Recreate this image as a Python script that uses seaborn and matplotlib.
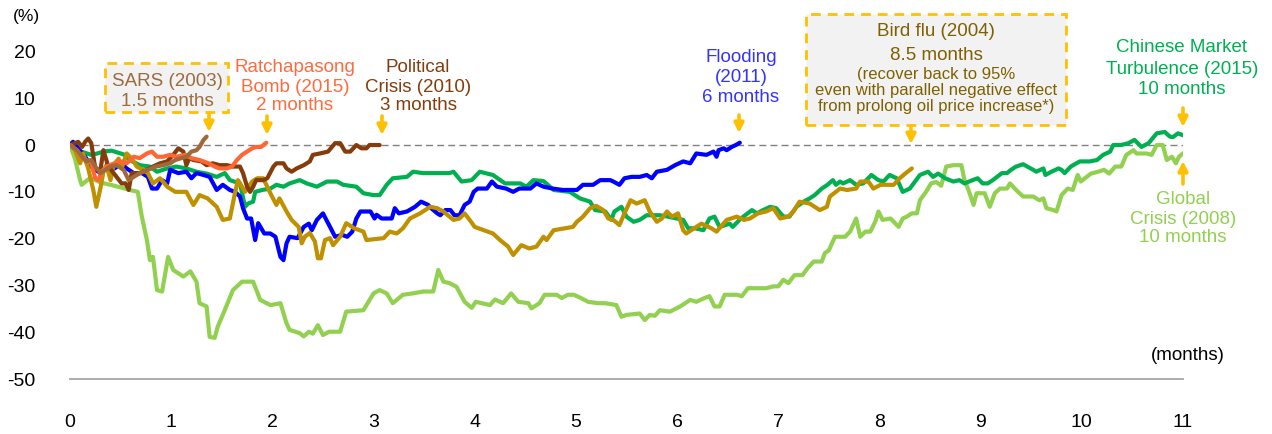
import matplotlib
matplotlib.use("Agg")
import matplotlib.pyplot as plt
from matplotlib.patches import Rectangle
import seaborn as sns

# ---------------- data (months, % change) ----------------
gc_x = [0, 0.05, 0.1, 0.115, 0.2, 0.3, 0.4, 0.49, 0.59, 0.67, 0.71, 0.76, 0.79, 0.82, 0.86, 0.91, 0.97, 1.02, 1.12, 1.19,
        1.25, 1.28, 1.35, 1.38, 1.43, 1.46, 1.51, 1.61, 1.70, 1.81, 1.88, 1.98, 2.08, 2.14, 2.17, 2.27, 2.31, 2.36, 2.40, 2.45,
        2.50, 2.56, 2.67, 2.73, 2.90, 3.00, 3.06, 3.13, 3.19, 3.29, 3.39, 3.49, 3.59, 3.64, 3.69, 3.75, 3.82, 3.90, 3.97, 4.01,
        4.15, 4.20, 4.28, 4.36, 4.43, 4.53, 4.56, 4.64, 4.69, 4.81, 4.86, 4.92, 4.98, 5.05, 5.12, 5.22, 5.29, 5.40, 5.45, 5.50,
        5.63, 5.68, 5.73, 5.78, 5.83, 5.93, 6.03, 6.13, 6.19, 6.26, 6.32, 6.37, 6.42, 6.47, 6.59, 6.64, 6.70, 6.88, 6.95, 7.00,
        7.05, 7.10, 7.16, 7.24, 7.29, 7.35, 7.43, 7.46, 7.50, 7.56, 7.66, 7.71, 7.77, 7.81, 7.86, 7.91, 7.96, 7.99, 8.03, 8.11,
        8.19, 8.23, 8.27, 8.32, 8.37, 8.40, 8.46, 8.51, 8.56, 8.61, 8.66, 8.73, 8.81, 8.84, 8.88, 8.93, 8.96, 9.04, 9.09, 9.14,
        9.19, 9.26, 9.29, 9.35, 9.42, 9.52, 9.58, 9.62, 9.65, 9.72, 9.75, 9.80, 9.86, 9.91, 9.96, 9.99, 10.03, 10.09, 10.16, 10.22,
        10.27, 10.33, 10.39, 10.44, 10.51, 10.54, 10.64, 10.69, 10.74, 10.80, 10.84, 10.89, 10.93, 10.96, 11.0]
gc_y = [0, -3, -7.5, -8.5, -7, -8, -8.5, -9, -9.6, -10, -15.3, -20.3, -24.6, -23.9, -31, -31.3, -23.9, -26.7, -28.1, -27,
        -29.2, -33.8, -34.5, -41, -41.2, -38.8, -36.3, -31, -29.2, -29.2, -33.1, -34.2, -33.8, -38.1, -39.5, -40.2, -40.9, -39.9, -40.3, -38.5,
        -40.6, -39.9, -39.9, -35.6, -35.3, -31.7, -31, -31.7, -33.8, -32, -31.7, -31.3, -31.3, -26.7, -29.2, -29.5, -30.3, -33.5, -34.8, -33.5,
        -34.2, -33, -33.8, -31.7, -33.5, -33.8, -34.9, -33.8, -32, -32, -32.7, -32, -32, -32.7, -33.5, -33.8, -33.8, -34.2, -36.7, -36.3,
        -36, -37.4, -36.3, -36.5, -35.3, -35.6, -34.5, -33.1, -33.5, -32.8, -32.3, -34.5, -34.5, -32, -32, -32.3, -30.6, -30.6, -30.2, -30.2,
        -28.8, -29.5, -27.8, -27.8, -26.3, -24.9, -24.9, -23.1, -22.5, -19.6, -19.6, -18.5, -15.7, -19.6, -18.5, -18.5, -16.3, -14.2, -16, -15.7,
        -17.5, -15.7, -15.3, -14.6, -14.6, -11.8, -10, -8.2, -7.9, -8.7, -4.6, -4.3, -4.3, -7.5, -9.6, -12.8, -10.3, -10.3, -13.2, -10.3,
        -9.3, -9.3, -8.2, -9.6, -11, -11, -11.8, -11.4, -13.5, -13.9, -14.2, -10.7, -9.3, -9.6, -6.4, -7.8, -7.1, -6.1, -5.7, -5.3,
        -6.1, -4.6, -4.6, -2.1, -1.1, -1.8, -1.8, -2.1, 0, 0, -3.2, -2.5, -3.9, -2.5, -1.8]

cm_x = [0, 0.07, 0.14, 0.21, 0.27, 0.33, 0.41, 0.47, 0.53, 0.59, 0.69, 0.79, 0.86, 0.96, 1.05, 1.15, 1.25, 1.35, 1.45, 1.53,
        1.58, 1.68, 1.73, 1.76, 1.81, 1.83, 1.90, 1.98, 2.04, 2.11, 2.17, 2.27, 2.34, 2.44, 2.54, 2.64, 2.70, 2.83, 2.90, 3.00,
        3.06, 3.13, 3.19, 3.33, 3.39, 3.49, 3.75, 3.79, 3.87, 3.97, 4.05, 4.18, 4.30, 4.45, 4.51, 4.58, 4.68, 4.78, 4.94, 5.04,
        5.14, 5.19, 5.29, 5.35, 5.38, 5.45, 5.50, 5.57, 5.63, 5.70, 5.83, 5.91, 6.06, 6.11, 6.18, 6.26, 6.32, 6.37, 6.42, 6.52,
        6.55, 6.63, 6.74, 6.79, 6.85, 6.92, 6.98, 7.05, 7.11, 7.18, 7.25, 7.31, 7.36, 7.43, 7.48, 7.54, 7.57, 7.61, 7.64, 7.71,
        7.77, 7.84, 7.92, 7.99, 8.04, 8.10, 8.17, 8.23, 8.30, 8.40, 8.48, 8.53, 8.58, 8.65, 8.73, 8.79, 8.84, 8.92, 8.97, 9.02,
        9.07, 9.12, 9.21, 9.26, 9.30, 9.35, 9.42, 9.52, 9.55, 9.62, 9.64, 9.70, 9.77, 9.80, 9.83, 9.89, 9.98, 10.08, 10.15, 10.21,
        10.28, 10.31, 10.39, 10.46, 10.52, 10.59, 10.66, 10.74, 10.82, 10.87, 10.90, 10.95, 11.0]
cm_y = [0, -1.1, -1.6, -2.1, -1.8, -1.4, -1.2, -1.6, -2.0, -3.2, -4.3, -4.6, -5.7, -5.0, -4.6, -5.0, -5.7, -6.1, -6.8, -6,
        -7.5, -8.2, -13.2, -12.5, -12.1, -10, -9.6, -9.3, -8.5, -8.9, -8.2, -7.5, -8.2, -8.9, -7.8, -7.8, -8.5, -8.9, -10.3, -10.7,
        -10.7, -8.5, -7.1, -6.8, -5.7, -6.0, -6, -5.7, -7.8, -7.5, -5.7, -6.4, -8.2, -8.2, -8.9, -7.5, -7.7, -9.6, -10, -11.4,
        -12.1, -13.9, -14.2, -16, -14.2, -13.2, -15.3, -16.4, -16, -15, -15, -15.3, -16, -17.8, -17.8, -18.2, -15.7, -15.3, -17.5, -16.8,
        -17.5, -15.7, -13.9, -14.6, -13.9, -13.2, -13.5, -15.3, -15.3, -13.2, -12.1, -11.4, -10.7, -9.3, -8.6, -7.5, -8.5, -7.8, -8.2, -7.5,
        -8.5, -8.2, -6.4, -7.5, -7.8, -6.4, -7.1, -10, -9.3, -6.4, -5.7, -6.8, -6.1, -7.1, -7.8, -7.5, -8.2, -7.5, -7.1, -8.2,
        -8.2, -7.5, -6, -6, -5.3, -4.6, -4.1, -5.3, -5.7, -5.0, -6.4, -5.7, -5.0, -5.3, -6, -4.6, -3.5, -3.5, -3.2, -2.1,
        -1.4, 0, 0, 0.4, 1.1, -0.4, 0.4, 2.5, 2.8, 1.8, 1.7, 2.5, 2.1]

bf_x = [0, 0.05, 0.10, 0.13, 0.18, 0.23, 0.26, 0.30, 0.33, 0.36, 0.40, 0.43, 0.48, 0.51, 0.56, 0.61, 0.66, 0.72, 0.77, 0.82,
        0.89, 0.96, 1.04, 1.15, 1.22, 1.28, 1.36, 1.45, 1.51, 1.58, 1.63, 1.66, 1.73, 1.80, 1.85, 1.91, 1.98, 2.04, 2.07, 2.14,
        2.19, 2.26, 2.29, 2.32, 2.37, 2.42, 2.45, 2.48, 2.52, 2.57, 2.60, 2.67, 2.73, 2.81, 2.90, 2.93, 3.10, 3.16, 3.23, 3.29,
        3.36, 3.46, 3.56, 3.63, 3.69, 3.79, 3.85, 3.90, 3.95, 4.00, 4.18, 4.25, 4.33, 4.38, 4.46, 4.54, 4.61, 4.68, 4.71, 4.78,
        4.89, 4.97, 5.01, 5.07, 5.14, 5.20, 5.27, 5.32, 5.37, 5.43, 5.48, 5.54, 5.60, 5.68, 5.73, 5.80, 5.85, 5.90, 5.95, 6.01,
        6.06, 6.09, 6.19, 6.24, 6.34, 6.39, 6.49, 6.59, 6.66, 6.72, 6.80, 6.88, 6.95, 7.02, 7.10, 7.15, 7.21, 7.31, 7.41, 7.48,
        7.51, 7.61, 7.68, 7.77, 7.81, 7.89, 7.94, 8.01, 8.14, 8.20, 8.26, 8.32]
bf_y = [0, -1.1, -3.9, -1.8, -5, -9.6, -13.2, -9.3, -5.7, -4.3, -7.5, -4.3, -2.9, -5, -1.8, -2.9, -4.6, -5.3, -6, -8.2,
        -7.1, -8.9, -10, -10, -12.8, -10.7, -11.4, -13.2, -16, -15.7, -10.3, -7.5, -10, -7.8, -7.1, -7.1, -10.3, -12.8, -11.4, -14.2,
        -16, -17.5, -21, -19.6, -18.8, -20.6, -24.2, -24.2, -20.3, -19.9, -21.4, -19.6, -16.7, -17.8, -18.5, -20.3, -19.9, -18.5, -18.9, -17.8,
        -15.7, -14.6, -13.2, -13.5, -14.2, -16, -15.7, -14.6, -16, -17.5, -18.9, -20.3, -21.7, -23.5, -21.4, -22.1, -21.7, -19.6, -20.3, -18.2,
        -17.8, -17.5, -16.4, -15.3, -13.5, -13, -13.9, -15.7, -16, -17.1, -14.6, -11.8, -12.5, -11.8, -14.2, -16.4, -15.7, -14.2, -15.3, -14.6,
        -18.2, -18.9, -17.5, -16.8, -17.8, -18.5, -16, -15.3, -16, -15.7, -14.6, -14.2, -13.5, -15.7, -15.3, -14.2, -12.1, -12.5, -13.9, -13.2,
        -11, -9.3, -9.6, -9.3, -7.8, -7.8, -9.3, -8.5, -8.5, -7.1, -6.0, -5]

fl_x = [0, 0.03, 0.08, 0.15, 0.21, 0.28, 0.36, 0.44, 0.51, 0.56, 0.63, 0.71, 0.77, 0.81, 0.86, 0.91, 0.96, 0.99, 1.07, 1.15,
        1.20, 1.25, 1.32, 1.38, 1.45, 1.51, 1.58, 1.63, 1.68, 1.71, 1.75, 1.79, 1.83, 1.86, 1.92, 1.98, 2.03, 2.08, 2.11, 2.14,
        2.17, 2.25, 2.31, 2.36, 2.39, 2.44, 2.50, 2.57, 2.62, 2.69, 2.74, 2.79, 2.83, 2.87, 2.97, 3.01, 3.03, 3.08, 3.18, 3.21,
        3.25, 3.33, 3.41, 3.47, 3.54, 3.57, 3.63, 3.66, 3.71, 3.76, 3.80, 3.85, 3.90, 3.95, 3.99, 4.03, 4.12, 4.17, 4.22, 4.31,
        4.38, 4.44, 4.55, 4.61, 4.68, 4.77, 4.87, 5.01, 5.07, 5.17, 5.24, 5.34, 5.37, 5.43, 5.48, 5.55, 5.63, 5.70, 5.75, 5.80,
        5.90, 5.98, 6.06, 6.13, 6.19, 6.29, 6.36, 6.39, 6.41, 6.46, 6.49, 6.54, 6.58, 6.62]
fl_y = [0, 0.7, -0.7, -2.5, -4.6, -5.7, -5.3, -5.0, -3.9, -5.0, -6, -6, -6.8, -9.3, -9.3, -7.5, -8.2, -5.3, -6, -5.7,
        -7.1, -6.0, -6.4, -6.8, -9.6, -8.5, -9.6, -10, -11, -13.5, -15.7, -15.7, -20.3, -16.7, -18.9, -18.9, -19.6, -23.9, -24.6, -21,
        -19.6, -19.9, -17.5, -16.8, -18.2, -16, -14.6, -17.5, -19.6, -19.2, -19.6, -18.5, -15.7, -14.2, -14.2, -15.7, -14.9, -15.7, -15.7, -13.5,
        -14.6, -14.2, -13.2, -12.1, -12.8, -13.5, -14.6, -15, -13.9, -13.9, -15, -15, -12.8, -12.1, -10, -9.3, -9.3, -7.8, -8.9, -9.3,
        -10, -9.3, -9.3, -8.2, -8.9, -9.3, -9.6, -9.6, -8.5, -8.5, -7.5, -7.5, -7.8, -8.5, -7.1, -6.8, -6.8, -6.4, -7.1, -5.7,
        -5.3, -4.3, -3.5, -3.9, -1.8, -2.1, -1.4, -2.5, -1.1, -0.7, -1.1, -0.4, 0, 0.5]

pc_x = [0, 0.05, 0.08, 0.12, 0.15, 0.18, 0.21, 0.25, 0.30, 0.33, 0.37, 0.42, 0.46, 0.51, 0.55, 0.58, 0.61, 0.69, 0.76, 0.82,
        0.89, 0.96, 1.02, 1.07, 1.12, 1.15, 1.18, 1.22, 1.30, 1.35, 1.41, 1.48, 1.55, 1.61, 1.68, 1.71, 1.75, 1.78, 1.81, 1.84,
        1.91, 1.95, 2.01, 2.04, 2.11, 2.14, 2.19, 2.24, 2.31, 2.37, 2.40, 2.47, 2.55, 2.62, 2.67, 2.72, 2.77, 2.83, 2.88, 2.93,
        2.96, 3.06]
pc_y = [0, 0.4, 0.7, -0.4, 0.7, 1.4, 0.4, -5, -5.5, -1.1, -4, -5.7, -6.8, -8.2, -8.2, -9.6, -6, -6, -5.3, -4.6,
        -3.9, -3.5, -2.1, -0.7, -1.4, -4.3, -2.8, -3.2, -3.5, -4.3, -3.9, -4.3, -4.3, -4.6, -4.6, -6, -8.9, -10, -8.9, -7.5,
        -7.5, -7.1, -4.6, -3.9, -3.9, -5.0, -5.7, -5.0, -4.3, -3.5, -2.1, -1.8, -1.4, 0.4, 0.4, -1.4, -1.4, 0, -0.7, -0.7,
        0, 0]

rb_x = [0, 0.07, 0.12, 0.16, 0.21, 0.25, 0.28, 0.31, 0.36, 0.44, 0.51, 0.56, 0.63, 0.69, 0.76, 0.81, 0.86, 0.92, 0.99, 1.05,
        1.14, 1.20, 1.28, 1.37, 1.43, 1.48, 1.55, 1.60, 1.65, 1.70, 1.75, 1.80, 1.84, 1.89, 1.94]
rb_y = [0, -1.1, -2.8, -3.2, -3.9, -7.1, -7.5, -5.7, -4.6, -3.9, -3.5, -3.9, -2.5, -2.8, -1.8, -1.4, -2.5, -2.5, -2.1, -2.5,
        -2.1, -2.8, -3.2, -3.9, -4.6, -5, -5, -4.6, -3.2, -2.1, -1.4, -0.7, -0.4, -0.4, 0.5]

sa_x = [0, 0.07, 0.12, 0.16, 0.21, 0.25, 0.30, 0.35, 0.40, 0.46, 0.53, 0.58, 0.63, 0.69, 0.77, 0.85, 0.92, 0.99, 1.04, 1.10,
        1.15, 1.20, 1.25, 1.28, 1.32, 1.35]
sa_y = [0, -1.1, -2.5, -3.5, -3.2, -4.6, -6.0, -5.3, -4.6, -4.3, -5.3, -7.5, -6.8, -6, -5.3, -4.6, -4.3, -3.9, -3.2, -2.8,
        -2.5, -1.4, -1.1, -0.4, 1.1, 1.8]

y_ticks = [20, 10, 0, -10, -20, -30, -40, -50]
y_tick_labels = ["20", "10", "0", "-10", "-20", "-30", "-40", "-50"]
x_ticks = list(range(0, 12))
x_tick_labels = [str(v) for v in x_ticks]

# ---------------- styling ----------------
sns.set_theme(style="white")
plt.rcParams["font.family"] = ["Liberation Sans", "DejaVu Sans"]

W, H = 1272, 434
fig = plt.figure(figsize=(W / 100, H / 100), dpi=100)
ax = fig.add_axes([70 / W, 55 / H, 1113 / W, 379 / H])


def fx(px):
    return px / W


def fy(py):
    return 1 - py / H


ARROW = "#FFC000"
series = [
    (gc_x, gc_y, "#92D050"),
    (cm_x, cm_y, "#00B050"),
    (fl_x, fl_y, "#0000FF"),
    (bf_x, bf_y, "#BF9000"),
    (pc_x, pc_y, "#843C0C"),
    (rb_x, rb_y, "#FF6633"),
    (sa_x, sa_y, "#A0693A"),
]
ax.axhline(0, color="#808080", lw=1.0, ls=(0, (5, 3)), zorder=1)
for i, (xs, ys, c) in enumerate(series):
    sns.lineplot(x=xs, y=ys, color=c, linewidth=3.0, ax=ax, estimator=None,
                 sort=False, zorder=3 + i)

ax.set_xlim(0, 11)
ax.set_ylim(-50, 31)
ax.set_yticks(y_ticks)
ax.set_yticklabels(y_tick_labels)
ax.set_xticks(x_ticks)
ax.set_xticklabels(x_tick_labels)
ax.tick_params(axis="y", length=0, pad=25, labelsize=14, labelcolor="black")
ax.tick_params(axis="x", length=0, pad=25, labelsize=14, labelcolor="black")
for s in ["top", "right", "left"]:
    ax.spines[s].set_visible(False)
ax.spines["bottom"].set_color("#A6A6A6")
ax.spines["bottom"].set_linewidth(1.3)
ax.set_xlabel("")
ax.set_ylabel("")
ax.grid(False)

fig.text(fx(26), fy(17), "(%)", ha="center", va="center", fontsize=12.5, color="black")
fig.text(fx(1188), fy(356), "(months)", ha="center", va="center", fontsize=13.5, color="black")

# dashed boxes
for (x0, y0, x1, y1) in [(105, 63, 228, 112), (806, 14, 1066, 125)]:
    fig.add_artist(Rectangle((fx(x0), fy(y1)), (x1 - x0) / W, (y1 - y0) / H,
                             transform=fig.transFigure, facecolor="#F2F2F2",
                             edgecolor=ARROW, lw=2.0, ls=(0, (3.5, 2.5)), zorder=0.5))


def label(xc, ys, texts, color, sizes):
    for y, t, s in zip(ys, texts, sizes):
        fig.text(fx(xc), fy(y), t, ha="center", va="center", color=color, fontsize=s, zorder=5)


label(167, [81, 101], ["SARS (2003)", "1.5 months"], "#9C6B3F", [13.5, 13.5])
label(295, [67, 87, 106], ["Ratchapasong", "Bomb (2015)", "2 months"], "#FF6B3D", [13.5] * 3)
label(418, [67, 87, 106], ["Political", "Crisis (2010)", "3 months"], "#843C0C", [13.5] * 3)
label(741, [57, 77, 97], ["Flooding", "(2011)", "6 months"], "#3333FF", [13.5] * 3)
label(936, [32, 56, 75, 91, 107],
      ["Bird flu (2004)", "8.5 months", "(recover back to 95%",
       "even with parallel negative effect", "from prolong oil price increase*)"],
      "#7F6000", [13.5, 13.5, 12, 12, 12])
label(1182, [48, 69, 90], ["Chinese Market", "Turbulence (2015)", "10 months"], "#00B050", [13.5] * 3)
label(1183, [200, 219, 238], ["Global", "Crisis (2008)", "10 months"], "#92D050", [13.5] * 3)

# arrows (tail -> tip), figure pixel positions
arrows = [
    (209, 113, 132), (267, 116, 135), (382, 116, 135), (739, 115, 133),
    (911, 125, 144), (1183, 108, 127), (1183, 184, 161),
]
for x, y_tail, y_tip in arrows:
    ax.annotate("", xy=(x, H - y_tip), xytext=(x, H - y_tail),
                xycoords="figure pixels", textcoords="figure pixels",
                arrowprops=dict(arrowstyle="-|>", color=ARROW, lw=2.6,
                                mutation_scale=14, shrinkA=0, shrinkB=0),
                annotation_clip=False)

fig.savefig("out.png", dpi=100)
